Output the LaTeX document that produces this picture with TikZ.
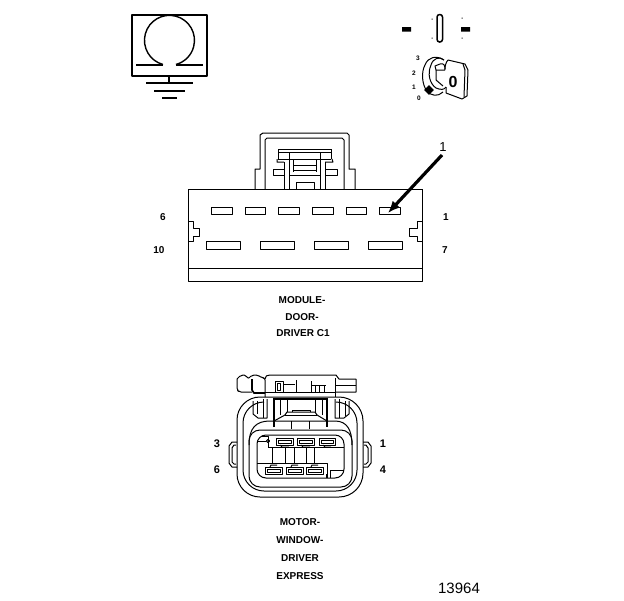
\documentclass[tikz,border=0pt]{standalone}
\usepackage{fontspec}
\setmainfont{Liberation Sans}
\usetikzlibrary{arrows.meta}
\tikzset{
  ln/.style={line width=1pt,line join=round},
  thk/.style={line width=2.4pt,line join=round},
  keytxt/.style={font=\fontsize{6.5}{7}\selectfont\bfseries,inner sep=0pt},
  pintxt/.style={font=\fontsize{10}{11}\selectfont\bfseries,inner sep=0pt},
  pinbig/.style={font=\fontsize{11}{12}\selectfont\bfseries,inner sep=0pt},
  captxt/.style={font=\fontsize{10}{11}\selectfont\bfseries,inner sep=0pt},
}
\begin{document}
\begin{tikzpicture}[x=1pt,y=-1pt]
\useasboundingbox (0,0) rectangle (624,600);
\fill[white] (0,0) rectangle (624,600);
% ground symbol
\draw[thk] (132,15) rectangle (207,76);
\draw[line width=1.4pt] (163,64.5) arc[start angle=255,end angle=-75,radius=25pt];
\draw[line width=2.8pt] (136,65) -- (163,65) (176,65) -- (203,65);
\draw[thk] (169,76) -- (169,83);
\draw[line width=1.6pt] (146,83) -- (193,83) (154,91) -- (185,91) (162,98) -- (177,98);
% ignition position symbol
\fill (402,27) rectangle (411,31.5) (461,27) rectangle (470,31.5);
\draw[line width=1.5pt,rounded corners=2.6pt] (437,14.5) rectangle (442.5,42);
\fill (431.5,18.5) rectangle (432.5,19.5) (431.5,37.5) rectangle (432.5,38.5)
      (461.5,17.5) rectangle (462.5,18.5) (461.5,37.5) rectangle (462.5,38.5);
% key
\draw[ln] (444,60) .. controls (436,55) and (428,57) .. (425,65) .. controls (421,72) and (422,85) .. (427,91) .. controls (431,96) and (438,97) .. (443,92);
\draw[ln] (444,60) .. controls (440,56) and (433,58) .. (431,65) .. controls (427,74) and (430,84) .. (436,88) .. controls (441,90) and (444,90) .. (446,87);
\draw[ln] (445,70) -- (436,70) -- (435,66) -- (440,64) .. controls (444,63) and (445,65) .. (445,70);
\draw[ln] (436,70) -- (436,80) -- (443,86);
\draw[ln] (448,60) -- (465,64) -- (468,70) -- (467,96) -- (462,99) -- (446,93);
\draw[ln] (448,60) .. controls (446,62) and (445,66) .. (445,69) (446,87) -- (446,93);
\draw[ln] (463,64) -- (465,70) -- (464,97);
\node[font=\fontsize{16}{16}\selectfont\bfseries,inner sep=0pt] (keyO) at (453,81.5) {0};
\fill[rotate around={45:(429,90)}] (425.5,86.5) rectangle (432.5,93.5);
\node[keytxt] (k3) at (418,58) {3};
\node[keytxt] (k2) at (414,73) {2};
\node[keytxt] (k1) at (414,87) {1};
\node[keytxt] (k0) at (419,98) {0};
% module connector body
\draw[ln] (188,189) -- (422,189) (188,189) -- (188,281) -- (422,281) -- (422,189) (188,268) -- (422,268);
\foreach \a/\b in {211/232,245/265,278/299,312/333,346/366,379/400}
  \draw[ln] (\a,207) rectangle (\b,214);
\foreach \a/\b in {206/240,260/294,314/348,368/402}
  \draw[ln] (\a,241) rectangle (\b,249);
\draw[ln] (188,221) -- (193,221) -- (193,228) -- (199,228) -- (199,236) -- (193,236) -- (193,241) -- (188,241);
\draw[ln] (422,221) -- (417,221) -- (417,228) -- (409,228) -- (409,236) -- (417,236) -- (417,241) -- (422,241);
% module latch
\draw[ln] (255,189) -- (255,169) -- (260,169) -- (260,135) -- (263,133) -- (347,133) -- (349,135) -- (349,169) -- (355,169) -- (355,189);
\draw[ln] (265,189) -- (265,140) -- (267,138) -- (342,138) -- (344,140) -- (344,189);
\draw[ln] (278,149) -- (331,149) (278,149) -- (278,159) (331,149) -- (331,159) (279,152) -- (331,152) (278,159) -- (331,159);
\draw[ln] (277,159) -- (277,162) -- (284,162) (332,159) -- (333,162) -- (325,162);
\draw[ln] (289,152) -- (289,189) (320,152) -- (320,189) (284,162) -- (284,189) (325,162) -- (325,189);
\draw[ln] (293,165) -- (316,165) (293,170) -- (316,170) (293,159) -- (293,172) (316,159) -- (316,172);
\draw[ln] (284,169) -- (273,169) -- (273,175) -- (284,175) (325,169) -- (337,169) -- (337,175) -- (325,175);
\draw[ln] (289,175) -- (320,175) (296,189) -- (296,182) -- (314,182) -- (314,189);
% arrow
\coordinate (arrowS) at (442,155);
\coordinate (arrowE) at (388,213);
\draw[line width=3.2pt,-{Latex[length=12pt,width=10pt]}] (arrowS) -- (arrowE);
\node[font=\fontsize{13}{13}\selectfont,inner sep=0pt] (callout) at (443,147) {1};
% module labels
\node[pintxt] (m6) at (163,217) {6};
\node[pintxt] (m1) at (446,217) {1};
\node[pintxt] (m10) at (159,250) {10};
\node[pintxt] (m7) at (445,250) {7};
\node[captxt] (c1) at (302,300) {MODULE-};
\node[captxt] (c2) at (302,317) {DOOR-};
\node[captxt] (c3) at (303,333) {DRIVER C1};
% motor connector body
\draw[ln] (237,420) arc[start angle=180,end angle=90,radius=23pt] -- (339,397) arc[start angle=90,end angle=0,radius=24pt] -- (363,473) arc[start angle=0,end angle=-90,radius=24pt] -- (260,497) arc[start angle=270,end angle=180,radius=23pt] -- cycle;
\draw[ln] (264,402) arc[start angle=90,end angle=180,radius=21pt] -- (243,470) arc[start angle=180,end angle=270,radius=21pt] -- (336,491) arc[start angle=-90,end angle=0,radius=21pt] -- (357,423) arc[start angle=0,end angle=90,radius=21pt];
\draw[ln,rounded corners=11pt] (249,430) rectangle (352,487);
\draw[ln,rounded corners=9pt] (257,435) rectangle (344,478);
\draw[ln] (249,445) .. controls (249,428) and (256,421) .. (270,421) -- (335,421) .. controls (347,421) and (352,430) .. (352,445);
% motor side tabs
\draw[ln] (237,442) -- (232,442) -- (229,446) -- (229,463) -- (232,467) -- (237,467);
\draw[ln] (236,445) -- (234,445) -- (232,448) -- (232,462) -- (234,464) -- (236,464);
\draw[ln] (363,442) -- (368,442) -- (371,446) -- (371,463) -- (368,467) -- (363,467);
\draw[ln] (364,445) -- (366,445) -- (368,448) -- (368,462) -- (366,464) -- (364,464);
% motor cavities
\foreach \a/\b in {276/293,297/314,319/335} {
  \draw[ln] (\a,438) rectangle (\b,445);
  \draw[ln] (\a+2,440) rectangle (\b-2,443);
  \draw[ln] (\a+4,445) -- (\a+6,447) -- (\b-4,447);
}
\foreach \a/\b in {265/282,286/303,306/323} {
  \draw[ln] (\a,467) rectangle (\b,474);
  \draw[ln] (\a+2,469) rectangle (\b-2,472);
  \draw[ln] (\a+5,467) -- (\a+6,465) -- (\b-5,465);
}
\draw[ln] (257,463) -- (327,463) -- (327,478);
\draw[ln] (268,447) -- (344,447);
\foreach \x in {272,285,294,306,314} \draw[ln] (\x,447) -- (\x,463);
\draw[ln] (330,470) -- (343,470) (330,470) -- (330,478);
\draw[ln] (258,441) -- (266,441) (261,436) -- (268,436) -- (268,447);
\draw[ln] (268,441) circle[radius=1.6pt];
\fill (326,474) rectangle (328,478);
% motor top
\draw[ln] (265,379) .. controls (265,376) and (267,375) .. (270,375) -- (336,375) -- (339,379) -- (356,379) -- (356,392) -- (335,392);
\draw[ln] (335,378) -- (335,397) (335,385) -- (356,385);
\draw[ln,rounded corners=2pt] (237,379) -- (241,375) -- (246,375) -- (248,379) -- (252,375) -- (258,375) -- (262,378) -- (265,378) -- (265,397);
\draw[ln,rounded corners=2pt] (237,379) -- (237,390) -- (239,392) -- (252,392);
\draw[line width=1.6pt] (252,379) -- (252,390) -- (254,393) -- (265,393);
\draw[ln] (265,392) -- (335,392);
\draw[ln] (275,381) rectangle (283,392) (277,383) rectangle (280,390);
\draw[ln] (283,384) -- (295,384) (296,380) -- (296,392) (311,381) -- (311,392);
\draw[ln] (311,385) -- (326,385) (315,385) -- (315,392) (319,385) -- (319,392) (324,385) -- (324,392);
\draw[line width=1.5pt] (274,427) -- (274,399) -- (327,399) -- (327,427);
\draw[ln] (280,399) -- (280,415) (322,399) -- (322,415) (287,399) -- (287,412) (315,399) -- (315,412);
\draw[ln] (274,421) -- (285,415) -- (287,412) -- (315,412) -- (317,415) -- (327,421);
\draw[ln] (285,415) -- (317,415) (292,412) -- (292,410) -- (310,410) -- (310,412);
\draw[ln] (291,421) -- (291,429) (309,421) -- (309,429);
\draw[ln] (253,401) -- (253,414) -- (258,418) -- (267,418) -- (267,399);
\draw[ln] (257,401) -- (257,414) (263,399) -- (263,418);
\draw[ln] (335,399) -- (335,418) -- (344,418) -- (349,414) -- (349,401);
\draw[ln] (339,399) -- (339,418) (345,401) -- (345,416);
% motor labels
\node[pinbig] (p3) at (217,444) {3};
\node[pinbig] (p1) at (383,444) {1};
\node[pinbig] (p6) at (217,470) {6};
\node[pinbig] (p4) at (383,470) {4};
\node[captxt] (d1) at (300,522) {MOTOR-};
\node[captxt] (d2) at (300,540) {WINDOW-};
\node[captxt] (d3) at (300,558) {DRIVER};
\node[captxt] (d4) at (300,576) {EXPRESS};
\node[font=\fontsize{15}{15}\selectfont,inner sep=0pt] (fig) at (459,588) {13964};
\end{tikzpicture}
\end{document}
